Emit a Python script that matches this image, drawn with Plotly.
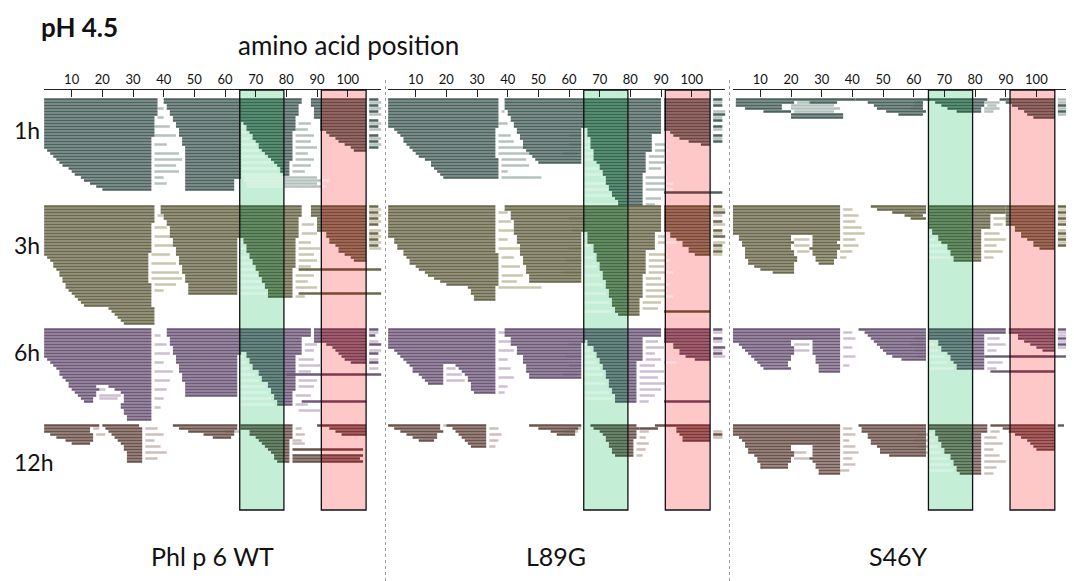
import plotly.graph_objects as go

PROTEINS = ['Phl p 6 WT', 'L89G', 'S46Y']
TIMES = ['1h', '3h', '6h', '12h']

TICK_VALS = [1, 10, 20, 30, 40, 50, 60, 70, 80, 90, 100, 111]
TICK_TEXT = ['', '10', '20', '30', '40', '50', '60', '70', '80', '90', '100', '']

# highlighted stretches of the sequence (residue positions)
GREEN_REGION = [64.8, 79.2]
RED_REGION = [91.4, 106]

# peptide stacks: (first row, start residues, end residues), one peptide per row
# *_SHORT: single dark peptides (row, start, end); *_LIGHT: pale peptides (row, start, end)

WT_1H = [
    (0, [1, 1, 1, 1, 1, 1, 1, 1, 1, 1, 1, 1, 1, 1, 1, 1, 1, 2, 3, 4, 5, 6, 7, 9, 10, 11, 13, 14, 16, 18, 20],
        [38, 38, 38, 38, 38, 38, 37, 37, 37, 37, 37, 37, 37, 36, 36, 36, 36, 36, 36, 36, 36, 36, 36, 36, 36, 36, 36, 36, 36, 36, 36]),
    (0, [40, 40, 41, 41, 42, 42, 43, 43, 44, 44, 45, 45, 45, 46, 46, 46, 47, 47, 47, 47, 47, 47, 47, 47, 47, 47, 47, 47, 47, 47, 47],
        [65, 65, 65, 65, 65, 65, 65, 65, 65, 65, 65, 65, 65, 65, 65, 65, 65, 65, 65, 65, 65, 65, 65, 65, 65, 65, 65, 63, 63, 63, 63]),
    (0, [65, 65, 65, 65, 65, 65, 65, 65, 66, 67, 67, 68, 69, 69, 70, 71, 71, 72, 73, 74, 75, 76, 77, 78, 78, 79],
        [85, 85, 84, 84, 84, 84, 83, 83, 83, 83, 83, 82, 82, 82, 82, 82, 82, 82, 82, 82, 82, 81, 81, 81, 81, 81]),
    (0, [88, 88, 88, 89, 89, 89, 89, 91, 91, 91, 91, 93, 94, 96, 97, 99, 101, 102],
        [106, 106, 106, 106, 106, 106, 106, 106, 106, 106, 106, 106, 106, 106, 106, 106, 106, 106]),
]
WT_1H_SHORT = [(0, 107, 110), (2, 107, 110), (4, 107, 110), (7, 107, 110), (9, 107, 110),
               (12, 107, 110), (14, 107, 110), (16, 107, 110)]
WT_1H_LIGHT = [(1, 107, 111), (3, 107, 111), (5, 107, 111), (8, 107, 111), (10, 107, 111), (13, 107, 111), (15, 107, 111),
               (3, 38, 40), (6, 38, 40), (9, 37, 42), (12, 37, 44), (15, 37, 41), (18, 37, 45), (20, 37, 46),
               (22, 37, 44), (24, 37, 45), (26, 37, 40), (28, 37, 41),
               (9, 65, 66), (11, 65, 67), (13, 65, 68), (15, 65, 70), (17, 65, 71), (19, 65, 73), (21, 65, 75),
               (23, 65, 77), (25, 65, 78),
               (26, 66, 90), (27, 66, 94), (28, 67, 90), (29, 67, 93),
               (8, 84, 88), (10, 83, 87), (12, 83, 89), (14, 83, 88), (16, 83, 90), (18, 83, 87), (20, 83, 89),
               (22, 82, 88), (24, 82, 86)]

WT_3H = [
    (0, [1, 1, 1, 1, 1, 1, 1, 1, 1, 1, 1, 1, 1, 1, 1, 1, 1, 2, 3, 4, 4, 5, 6, 6, 7, 7, 8, 8, 9, 10, 11, 12, 13, 14],
        [37, 37, 37, 37, 37, 37, 36, 36, 36, 36, 36, 36, 36, 36, 36, 36, 35, 35, 35, 35, 35, 35, 35, 35, 35, 35, 36, 36, 36, 36, 36, 36, 36, 36]),
    (34, [22, 23, 24, 25, 26, 27], [37, 37, 37, 37, 37, 37]),
    (0, [39, 39, 39, 40, 40, 41, 41, 42, 42, 42, 42, 43, 43, 43, 44, 44, 44, 45, 45, 45, 46, 46, 46, 47, 47, 47, 48, 48, 48, 48],
        [65, 65, 65, 65, 65, 65, 65, 65, 65, 65, 65, 64, 64, 64, 64, 64, 64, 64, 64, 64, 64, 64, 64, 64, 64, 64, 64, 64, 64, 64]),
    (0, [65, 65, 65, 65, 65, 65, 65, 65, 65, 65, 65, 66, 66, 67, 67, 67, 68, 68, 69, 69, 70, 70, 71, 71, 72, 72, 73, 73, 74, 74, 74],
        [85, 85, 85, 85, 84, 84, 84, 84, 84, 84, 84, 83, 83, 83, 83, 83, 83, 83, 83, 83, 83, 82, 82, 82, 82, 82, 82, 82, 82, 82, 82]),
    (0, [88, 88, 88, 88, 90, 90, 90, 90, 90, 93, 93, 94, 94, 96, 97, 97, 99, 101, 102],
        [106, 106, 106, 106, 106, 106, 106, 106, 106, 106, 106, 106, 106, 106, 106, 106, 106, 106, 106]),
]
WT_3H_SHORT = [(0, 107, 110), (2, 107, 110), (4, 107, 110), (6, 107, 110), (9, 107, 110), (11, 107, 110),
               (13, 107, 110), (21, 84, 111), (29, 84, 111)]
WT_3H_LIGHT = [(1, 107, 111), (3, 107, 111), (5, 107, 111), (8, 107, 111), (10, 107, 111), (12, 107, 111), (14, 107, 111),
               (3, 38, 40), (7, 37, 41), (10, 37, 42), (13, 37, 43), (16, 36, 42), (19, 36, 44), (22, 36, 45),
               (24, 36, 46), (26, 37, 44), (28, 37, 40),
               (12, 65, 66), (14, 65, 67), (17, 65, 68), (19, 65, 69), (21, 65, 70), (23, 65, 71), (25, 65, 72),
               (27, 65, 73), (29, 65, 74),
               (6, 85, 89), (9, 85, 90), (12, 84, 88), (14, 84, 91), (16, 84, 89), (18, 84, 90), (20, 84, 88),
               (23, 83, 89), (25, 83, 87), (27, 83, 90), (30, 83, 86)]

WT_6H = [
    (0, [1, 1, 1, 1, 1, 1, 1, 1, 1, 1, 2, 3, 4, 5, 6, 6, 7, 8, 9, 9, 10, 11, 12, 13, 14],
        [36, 36, 36, 36, 36, 36, 36, 36, 36, 36, 36, 36, 36, 36, 36, 36, 36, 36, 36, 18, 19, 18, 18, 17, 17]),
    (19, [22, 24, 26, 27, 27, 27, 26, 26, 27, 27, 28, 28],
         [36, 36, 36, 36, 36, 36, 36, 36, 36, 36, 36, 36]),
    (0, [41, 41, 41, 42, 42, 42, 43, 43, 43, 44, 44, 44, 45, 45, 45, 46, 46, 46, 47, 47, 47, 47, 47],
        [65, 65, 65, 65, 65, 65, 65, 65, 65, 64, 64, 64, 64, 64, 64, 64, 64, 64, 64, 64, 64, 64, 64]),
    (0, [65, 65, 65, 65, 65, 65, 65, 65, 67, 67, 68, 68, 69, 69, 71, 71, 72, 72, 74, 74, 75, 75, 76, 76, 77, 77],
        [88, 88, 88, 85, 85, 85, 85, 85, 85, 83, 83, 83, 83, 83, 83, 83, 83, 83, 83, 83, 83, 82, 82, 82, 82, 82]),
    (0, [89, 89, 89, 89, 89, 93, 95, 96, 97, 98, 99, 101],
        [106, 106, 106, 106, 106, 106, 106, 106, 106, 106, 106, 106]),
]
WT_6H_SHORT = [(0, 107, 110), (2, 107, 109), (5, 107, 111), (8, 107, 110), (11, 107, 110),
               (15, 80, 111), (24, 85, 106)]
WT_6H_LIGHT = [(1, 107, 110), (4, 107, 110), (7, 107, 111), (10, 107, 110), (13, 107, 110),
               (2, 37, 39), (5, 37, 41), (8, 37, 42), (11, 37, 40), (14, 37, 43), (17, 37, 42), (20, 37, 41),
               (23, 37, 40), (26, 37, 39),
               (20, 19, 21), (22, 19, 26), (23, 19, 25),
               (9, 65, 66), (11, 65, 67), (13, 65, 68), (15, 65, 70), (17, 65, 71), (19, 65, 73), (21, 65, 74),
               (23, 65, 75), (25, 65, 76),
               (5, 86, 90), (7, 86, 89), (10, 84, 89), (12, 84, 91), (14, 84, 88), (17, 84, 90), (19, 84, 89),
               (22, 83, 88), (25, 83, 87), (27, 84, 91)]

WT_12H = [
    (0, [1, 1, 1, 3, 5, 8, 10], [19, 16, 16, 17, 17, 17, 16]),
    (0, [20, 21, 22, 23, 24, 25, 26, 27, 27, 28, 28, 28, 28],
        [32, 33, 33, 33, 33, 33, 33, 33, 33, 33, 33, 33, 33]),
    (0, [43, 45, 48, 53, 56], [64, 64, 63, 63, 62]),
    (0, [65, 65, 68, 68, 70, 71, 72, 73, 74, 75, 76, 76, 77],
        [82, 82, 82, 82, 82, 81, 81, 81, 81, 81, 81, 81, 81]),
    (0, [90, 94, 96, 98], [106, 106, 106, 106]),
]
WT_12H_SHORT = [(8, 82, 105), (10, 82, 105), (11, 82, 104), (12, 82, 105)]
WT_12H_LIGHT = [(1, 34, 38), (3, 34, 40), (5, 34, 37), (7, 34, 39), (9, 34, 41), (11, 34, 38),
                (1, 17, 19), (3, 18, 21), (2, 60, 65),
                (1, 83, 85), (3, 83, 86), (5, 82, 85), (6, 82, 86)]

L89G_1H = [
    (0, [1, 1, 1, 1, 1, 1, 1, 1, 1, 1, 3, 4, 5, 6, 6, 7, 8, 9, 10, 11, 13, 15, 15, 16, 17, 18, 19],
        [37, 37, 37, 37, 37, 37, 37, 37, 37, 37, 36, 36, 36, 36, 36, 36, 36, 36, 36, 36, 37, 37, 37, 37, 37, 37, 37]),
    (0, [39, 39, 39, 39, 40, 40, 41, 41, 42, 42, 43, 43, 44, 44, 45, 45, 45, 46, 47, 48, 49, 50],
        [65, 65, 65, 65, 65, 65, 65, 65, 65, 65, 64, 64, 64, 64, 64, 64, 64, 64, 64, 64, 64, 64]),
    (0, [65, 65, 65, 65, 65, 65, 65, 65, 65, 65, 66, 66, 66, 67, 67, 67, 67, 68, 68, 68, 68, 69,
         70, 70, 71, 71, 72, 72, 72, 73, 73, 74, 74, 75, 76, 76],
        [90, 90, 90, 90, 90, 90, 90, 90, 90, 90, 90, 90, 87, 87, 87, 87, 87, 87, 85, 85, 85, 85,
         85, 85, 85, 84, 84, 84, 84, 84, 84, 84, 84, 84, 84, 84]),
    (0, [91, 91, 91, 91, 91, 91, 91, 91, 91, 91, 91, 93, 94, 96, 99, 103],
        [106, 106, 106, 106, 106, 106, 106, 106, 106, 106, 106, 106, 106, 106, 106, 106]),
]
L89G_1H_SHORT = [(0, 107, 110), (2, 107, 110), (5, 107, 111), (7, 107, 110), (9, 107, 110),
                 (12, 107, 110), (14, 107, 110), (31, 91, 110)]
L89G_1H_LIGHT = [(1, 107, 110), (4, 107, 111), (6, 107, 110), (10, 107, 110), (13, 107, 110),
                 (4, 38, 39), (8, 37, 40), (12, 37, 41), (14, 37, 42), (16, 37, 46), (18, 37, 47), (20, 38, 46),
                 (22, 38, 47), (24, 38, 40), (26, 38, 51),
                 (12, 60, 64), (15, 60, 64), (18, 58, 63),
                 (11, 65, 66), (14, 65, 67), (16, 65, 67), (18, 65, 68), (20, 65, 68), (23, 65, 70), (25, 65, 71),
                 (28, 65, 72), (30, 65, 73), (32, 65, 74), (35, 65, 76),
                 (15, 88, 92), (17, 88, 93), (19, 86, 91), (21, 86, 93), (23, 86, 90), (26, 85, 92), (28, 85, 94),
                 (30, 85, 94), (33, 85, 90), (35, 85, 88)]

L89G_3H = [
    (0, [1, 1, 1, 1, 1, 1, 1, 1, 1, 1, 1, 3, 3, 4, 4, 6, 6, 7, 8, 8, 10, 11, 13, 14, 16, 18, 20],
        [36, 36, 36, 36, 36, 36, 36, 36, 36, 36, 36, 36, 36, 36, 36, 36, 37, 37, 37, 37, 37, 37, 37, 37, 37, 37, 37]),
    (27, [27, 28, 28, 29, 29], [36, 36, 36, 36, 36]),
    (0, [39, 39, 41, 41, 41, 42, 42, 42, 42, 42, 43, 43, 43, 44, 44, 44, 44, 45, 45, 45, 46, 46, 46, 47, 47, 47],
        [65, 65, 65, 65, 65, 65, 65, 65, 65, 64, 64, 64, 64, 64, 64, 64, 64, 64, 64, 64, 64, 64, 64, 64, 64, 64]),
    (0, [65, 65, 65, 65, 65, 65, 65, 65, 65, 66, 66, 66, 66, 68, 68, 68, 69, 69, 69, 70, 70, 70,
         71, 71, 71, 72, 72, 72, 73, 73, 73, 74, 74, 74, 75, 75, 76],
        [90, 90, 90, 90, 90, 90, 90, 90, 90, 88, 88, 88, 88, 88, 88, 85, 85, 85, 85, 85, 85, 85,
         85, 84, 84, 84, 84, 84, 84, 84, 84, 83, 83, 83, 83, 83, 83]),
    (0, [91, 91, 91, 91, 91, 91, 91, 91, 91, 93, 93, 95, 97, 97, 99, 99, 101],
        [106, 106, 106, 106, 106, 106, 106, 106, 106, 106, 106, 106, 106, 106, 106, 106, 106]),
]
L89G_3H_SHORT = [(0, 107, 110), (2, 107, 111), (5, 107, 110), (8, 107, 110), (10, 107, 111),
                 (13, 107, 110), (15, 107, 110), (35, 91, 106)]
L89G_3H_LIGHT = [(1, 107, 111), (3, 107, 110), (6, 107, 111), (9, 107, 110), (12, 107, 111), (14, 107, 110),
                 (16, 107, 110),
                 (2, 37, 40), (5, 37, 41), (8, 37, 42), (11, 37, 40), (14, 37, 44), (17, 38, 42), (20, 38, 44),
                 (23, 38, 45), (25, 38, 43), (27, 37, 51),
                 (4, 60, 65), (8, 61, 64), (14, 60, 64), (18, 59, 64), (22, 58, 64),
                 (10, 65, 66), (13, 65, 67), (17, 65, 68), (20, 65, 69), (23, 65, 70), (26, 65, 71), (29, 65, 72),
                 (32, 65, 73), (35, 65, 74),
                 (10, 89, 93), (12, 89, 95), (16, 86, 92), (18, 86, 93), (20, 86, 91), (22, 86, 94), (24, 85, 90),
                 (26, 85, 93), (28, 85, 92), (30, 85, 94), (32, 84, 90), (34, 84, 89)]

L89G_6H = [
    (0, [1, 1, 1, 1, 1, 1, 1, 3, 4, 5, 6, 7, 8, 9, 9, 11, 12, 13, 14],
        [36, 36, 36, 36, 36, 36, 36, 36, 36, 36, 36, 36, 19, 19, 19, 19, 19, 19, 19]),
    (12, [23, 24, 25, 26, 27, 27, 28, 28, 28, 29], [36, 36, 36, 36, 36, 36, 36, 36, 36, 36]),
    (0, [39, 39, 39, 41, 41, 41, 43, 43, 43, 45, 45, 45, 46, 46, 46, 47, 47],
        [65, 65, 65, 65, 65, 64, 64, 64, 64, 64, 64, 64, 64, 64, 64, 64, 64]),
    (0, [65, 65, 65, 65, 66, 66, 68, 68, 69, 69, 70, 70, 71, 71, 72, 72, 72, 73, 73, 73, 74, 74, 75, 75, 75],
        [90, 90, 90, 84, 84, 84, 84, 84, 84, 84, 84, 82, 82, 82, 82, 82, 82, 82, 82, 82, 82, 82, 82, 82, 82]),
    (0, [91, 91, 91, 91, 91, 94, 94, 96, 96, 98, 101],
        [106, 106, 106, 106, 106, 106, 106, 106, 106, 106, 106]),
]
L89G_6H_SHORT = [(0, 107, 110), (3, 107, 110), (6, 107, 111), (8, 107, 110), (24, 91, 106)]
L89G_6H_LIGHT = [(1, 107, 110), (4, 107, 110), (7, 107, 110), (9, 107, 111), (11, 91, 95),
                 (1, 37, 40), (4, 37, 41), (7, 37, 42), (10, 37, 40), (13, 37, 41), (16, 37, 42), (19, 37, 40),
                 (21, 37, 39),
                 (13, 20, 23), (15, 20, 25), (17, 20, 26),
                 (5, 60, 64), (9, 59, 64), (12, 60, 64), (15, 58, 63),
                 (5, 65, 66), (7, 65, 67), (9, 65, 68), (11, 65, 69), (13, 65, 70), (15, 65, 71), (18, 65, 72),
                 (21, 65, 73), (23, 65, 74),
                 (4, 85, 89), (6, 85, 91), (8, 85, 88), (10, 85, 90), (12, 83, 88), (14, 83, 91), (16, 83, 89),
                 (18, 83, 92), (20, 83, 90), (22, 83, 88), (24, 83, 86)]

L89G_12H = [
    (0, [1, 3, 5, 7, 9, 11], [18, 18, 19, 17, 17, 16]),
    (0, [20, 22, 23, 24, 25, 26, 27, 28], [33, 33, 33, 33, 33, 33, 33, 33]),
    (0, [47, 50, 54, 56], [64, 63, 62, 62]),
    (0, [67, 68, 70, 71, 72, 72, 73, 73, 74, 74, 75], [82, 83, 82, 82, 82, 81, 81, 81, 81, 81, 81]),
    (0, [88, 95, 95, 96, 97, 97], [106, 106, 106, 106, 106, 106]),
]
L89G_12H_SHORT = [(1, 83, 89), (3, 107, 110)]
L89G_12H_LIGHT = [(1, 34, 37), (3, 34, 38), (5, 34, 37), (7, 34, 36), (0, 19, 20), (1, 60, 64), (2, 58, 63),
                  (2, 83, 86), (4, 83, 85), (6, 82, 86), (8, 82, 85), (10, 82, 84), (2, 107, 110), (4, 107, 110)]

S46Y_1H = [
    (0, [2, 2, 2, 5, 11], [41, 21, 17, 17, 20]),
    (5, [20, 20], [37, 37]),
    (0, [41, 45, 47, 48, 51, 55], [65, 63, 63, 63, 64, 63]),
    (0, [65, 67, 69, 71, 74], [84, 83, 83, 82, 82]),
    (0, [88, 90, 92, 94, 96, 97, 99], [106, 106, 106, 106, 106, 106, 106]),
]
S46Y_1H_SHORT = [(1, 26, 35), (2, 107, 110), (4, 107, 110)]
S46Y_1H_LIGHT = [(1, 22, 26), (2, 20, 34), (3, 20, 36), (4, 21, 34), (1, 60, 63), (2, 60, 63), (3, 59, 63),
                 (1, 83, 88), (2, 84, 87), (3, 83, 88), (4, 83, 86),
                 (0, 107, 111), (1, 107, 110), (3, 107, 111), (5, 107, 110)]

S46Y_3H = [
    (0, [1, 1, 1, 1, 1, 1, 1, 1, 1, 1, 3, 3, 4, 4, 5, 5, 5, 5, 6, 6, 8, 10, 14],
        [36, 36, 36, 36, 36, 36, 36, 36, 36, 36, 20, 20, 21, 20, 20, 21, 21, 22, 22, 21, 21, 21, 21]),
    (10, [27, 27, 27, 27, 26, 27, 27, 28, 28, 29], [36, 36, 35, 36, 36, 35, 35, 35, 34, 34]),
    (0, [46, 48, 53, 57, 59], [64, 64, 64, 63, 64]),
    (0, [65, 65, 65, 65, 65, 65, 65, 65, 66, 66, 68, 68, 69, 71, 71, 72, 72, 73, 73],
        [90, 90, 90, 85, 85, 85, 85, 85, 82, 82, 82, 82, 82, 82, 82, 82, 82, 82, 82]),
    (0, [90, 90, 90, 90, 90, 90, 90, 93, 93, 95, 95, 97, 99, 99, 101],
        [106, 106, 106, 106, 106, 106, 106, 106, 106, 106, 106, 106, 106, 106, 106]),
]
S46Y_3H_SHORT = [(0, 107, 111), (2, 107, 110), (4, 107, 110), (6, 107, 111), (9, 107, 110),
                 (11, 107, 110), (13, 107, 110)]
S46Y_3H_LIGHT = [(1, 107, 110), (3, 107, 111), (5, 107, 110), (8, 107, 111), (10, 107, 110), (12, 107, 110),
                 (1, 37, 40), (3, 37, 42), (5, 37, 41), (7, 37, 43), (9, 37, 44), (11, 37, 41), (13, 37, 42),
                 (15, 36, 40), (17, 36, 38),
                 (11, 21, 26), (13, 21, 26), (15, 22, 26),
                 (2, 53, 60), (3, 58, 62),
                 (9, 65, 66), (11, 65, 67), (13, 65, 69), (15, 65, 71), (17, 65, 72),
                 (4, 86, 90), (6, 86, 89), (9, 83, 88), (11, 83, 90), (13, 83, 87), (15, 83, 89), (17, 83, 86)]

S46Y_6H = [
    (0, [1, 1, 1, 1, 1, 3, 4, 5, 6, 7, 8, 9, 10, 11],
        [36, 36, 36, 36, 20, 20, 21, 21, 21, 20, 20, 19, 19, 20]),
    (4, [27, 27, 27, 27, 27, 28, 28, 28, 29, 29, 29], [36, 36, 36, 36, 36, 36, 36, 36, 36, 36, 36]),
    (0, [42, 44, 45, 46, 47, 48, 49, 50, 51, 53, 56], [64, 64, 64, 64, 64, 64, 64, 64, 64, 64, 64]),
    (0, [65, 65, 65, 65, 68, 68, 69, 69, 71, 72, 72, 73, 74, 74],
        [90, 90, 83, 83, 83, 83, 83, 83, 83, 83, 83, 83, 83, 83]),
    (0, [91, 91, 94, 94, 96, 98, 100, 102], [106, 106, 106, 106, 106, 106, 106, 106]),
]
S46Y_6H_SHORT = [(0, 107, 111), (3, 107, 110), (5, 107, 111), (9, 83, 110), (14, 85, 106)]
S46Y_6H_LIGHT = [(1, 107, 110), (2, 107, 110), (4, 107, 110), (6, 107, 110),
                 (1, 37, 40), (3, 37, 41), (6, 37, 40), (9, 37, 41), (12, 37, 39),
                 (5, 21, 26), (7, 21, 26),
                 (3, 60, 64), (5, 59, 64), (7, 60, 64), (9, 61, 64),
                 (5, 65, 67), (7, 65, 68), (9, 65, 70), (11, 65, 71), (13, 65, 73),
                 (3, 84, 88), (5, 84, 90), (7, 84, 87), (11, 84, 89), (13, 84, 87)]

S46Y_12H = [
    (0, [1, 1, 1, 1, 3, 4, 5, 5, 6, 6, 8, 9, 9, 10, 10],
        [36, 36, 36, 36, 36, 36, 36, 20, 20, 21, 21, 20, 20, 19, 19]),
    (7, [27, 27, 27, 27, 26, 27, 28, 28, 29, 29], [36, 36, 36, 36, 36, 36, 36, 36, 36, 36]),
    (0, [42, 43, 43, 45, 45, 46, 46, 48, 49, 49, 52], [64, 64, 64, 64, 64, 64, 64, 64, 64, 64, 64]),
    (0, [65, 65, 67, 67, 68, 68, 69, 69, 70, 70, 72, 72, 73, 73, 74, 74, 75],
        [84, 84, 84, 82, 82, 82, 82, 82, 82, 82, 82, 82, 82, 82, 82, 82, 82]),
    (0, [85, 89, 91, 93, 95, 97, 98, 99, 100], [106, 106, 106, 106, 106, 106, 106, 106, 106]),
]
S46Y_12H_SHORT = [(0, 107, 109)]
S46Y_12H_LIGHT = [(1, 37, 40), (3, 37, 41), (5, 37, 39), (7, 37, 41), (9, 37, 42), (11, 37, 40), (13, 37, 41),
                  (15, 36, 39),
                  (9, 21, 25), (11, 21, 26),
                  (3, 61, 65), (5, 60, 65), (7, 61, 66), (9, 62, 65),
                  (3, 65, 66), (5, 65, 67), (7, 65, 68), (9, 65, 69), (11, 65, 71), (13, 65, 72), (15, 65, 73),
                  (2, 85, 88), (4, 83, 87), (6, 83, 89), (8, 83, 86), (10, 83, 88), (12, 83, 90), (14, 83, 87),
                  (16, 83, 86)]

PANELS = [
    [(WT_1H, WT_1H_SHORT, WT_1H_LIGHT), (WT_3H, WT_3H_SHORT, WT_3H_LIGHT),
     (WT_6H, WT_6H_SHORT, WT_6H_LIGHT), (WT_12H, WT_12H_SHORT, WT_12H_LIGHT)],
    [(L89G_1H, L89G_1H_SHORT, L89G_1H_LIGHT), (L89G_3H, L89G_3H_SHORT, L89G_3H_LIGHT),
     (L89G_6H, L89G_6H_SHORT, L89G_6H_LIGHT), (L89G_12H, L89G_12H_SHORT, L89G_12H_LIGHT)],
    [(S46Y_1H, S46Y_1H_SHORT, S46Y_1H_LIGHT), (S46Y_3H, S46Y_3H_SHORT, S46Y_3H_LIGHT),
     (S46Y_6H, S46Y_6H_SHORT, S46Y_6H_LIGHT), (S46Y_12H, S46Y_12H_SHORT, S46Y_12H_LIGHT)],
]

# ---- page geometry (pixels of the 1074x581 page) and styling ----
PAGE_W, PAGE_H = 1074, 581
BODY = 8                       # the page body margin pushes the figure 8px right and down
W, H = PAGE_W - BODY, PAGE_H - BODY
TOP, BOTTOM = 90, 510
ROW_PX = 3
RES0_PX = [41, 385, 729.7]
RES_PX = 3.067
BLOCK_TOP_PX = {'1h': 98, '3h': 205, '6h': 328, '12h': 424}
LABEL_Y_PX = {'1h': 130, '3h': 245, '6h': 352, '12h': 462}
NAME_X_PX = [212, 556, 898]

DARK = {'plain': {'1h': '#4c625e', '3h': '#6b694b', '6h': '#6e5878', '12h': '#6b524b'},
        'green': {'1h': '#33684f', '3h': '#43693f', '6h': '#43605f', '12h': '#455d42'},
        'red': {'1h': '#6b4542', '3h': '#7b4732', '6h': '#7c384c', '12h': '#803636'}}
LIGHT = {'plain': {'1h': '#b4c2be', '3h': '#c9c7b0', '6h': '#cdbfd2', '12h': '#cfbfba'},
         'green': {'1h': '#d8f3e3', '3h': '#d8f3e3', '6h': '#d8f3e3', '12h': '#d8f3e3'},
         'red': {'1h': '#fadcdc', '3h': '#fadcdc', '6h': '#fadcdc', '12h': '#fadcdc'}}
FONT = 'Lato, "Open Sans", sans-serif'


def px_x(px):
    return (px - BODY) / W


def px_y(py):
    return (BOTTOM - py) / (BOTTOM - TOP)


def split(s, e):
    edges = sorted([s, e] + [c for c in GREEN_REGION + RED_REGION if s < c < e])
    for a, b in zip(edges[:-1], edges[1:]):
        m = (a + b) / 2
        if GREEN_REGION[0] < m < GREEN_REGION[1]:
            zone = 'green'
        elif RED_REGION[0] < m < RED_REGION[1]:
            zone = 'red'
        else:
            zone = 'plain'
        yield a, b, zone


fig = go.Figure()

for c, blocks in enumerate(PANELS):
    xa = 'x' if c == 0 else 'x%d' % (c + 1)
    for shade, palette in (('light', LIGHT), ('dark', DARK)):
        base, length, ys, cols = [], [], [], []
        for t, (stacks, short, light) in zip(TIMES, blocks):
            y0 = (BLOCK_TOP_PX[t] - TOP) / ROW_PX + 0.5
            if shade == 'dark':
                segs = list(short)
                for r0, starts, ends in stacks:
                    if len(starts) != len(ends):
                        raise ValueError('length mismatch in %s %s row %d' % (PROTEINS[c], t, r0))
                    segs += [(r0 + i, s, e) for i, (s, e) in enumerate(zip(starts, ends))]
            else:
                segs = light
            for r, s, e in segs:
                for a, b, zone in split(s, e):
                    base.append(a)
                    length.append(b - a)
                    ys.append(y0 + r)
                    cols.append(palette[zone][t])
        fig.add_trace(go.Bar(orientation='h', base=base, x=length, y=ys, width=0.8,
                             marker=dict(color=cols, line=dict(width=0)),
                             xaxis=xa, yaxis='y', hoverinfo='skip', showlegend=False))

shapes = []
for c in range(3):
    xr = 'x' if c == 0 else 'x%d' % (c + 1)
    for region, fill in ((GREEN_REGION, '#c5eed6'), (RED_REGION, '#ffc8c8')):
        shapes.append(dict(type='rect', xref=xr, yref='paper', x0=region[0], x1=region[1], y0=0, y1=1,
                           fillcolor=fill, line=dict(width=0), layer='below'))
        shapes.append(dict(type='rect', xref=xr, yref='paper', x0=region[0], x1=region[1], y0=0, y1=1,
                           line=dict(color='#111111', width=1.3), layer='above'))
for sep in (385.5, 729.5):
    shapes.append(dict(type='line', xref='paper', yref='paper', x0=px_x(sep), x1=px_x(sep),
                       y0=px_y(PAGE_H), y1=px_y(80), line=dict(color='#9a9a9a', width=1, dash='dot')))

annotations = [
    dict(text='<b>pH 4.5</b>', x=px_x(39), y=px_y(BODY + 1), xanchor='left', yanchor='top',
         font=dict(size=26, color='#111111')),
    dict(text='amino acid position', x=px_x(348), y=px_y(45), xanchor='center', yanchor='middle',
         font=dict(size=26, color='#111111')),
]
for t in TIMES:
    annotations.append(dict(text=t, x=px_x(12), y=px_y(LABEL_Y_PX[t]), xanchor='left', yanchor='middle',
                            font=dict(size=23, color='#111111')))
for name, xp in zip(PROTEINS, NAME_X_PX):
    annotations.append(dict(text=name, x=px_x(xp), y=px_y(556), xanchor='center', yanchor='middle',
                            font=dict(size=25, color='#111111')))
for a in annotations:
    a.update(xref='paper', yref='paper', showarrow=False)

axis_style = dict(range=[1, 111], side='top', showline=True, linecolor='#222222', linewidth=1,
                  ticks='inside', ticklen=7, tickcolor='#222222', tickwidth=1,
                  tickvals=TICK_VALS, ticktext=TICK_TEXT, tickfont=dict(size=13, color='#111111'),
                  showgrid=False, zeroline=False, fixedrange=True, anchor='y')
layout_axes = {}
for c in range(3):
    x0 = RES0_PX[c] + 1 * RES_PX
    x1 = RES0_PX[c] + 111 * RES_PX
    key = 'xaxis' if c == 0 else 'xaxis%d' % (c + 1)
    layout_axes[key] = dict(axis_style, domain=[px_x(x0), px_x(x1)])

fig.update_layout(
    width=W, height=H,
    margin=dict(l=0, r=0, t=TOP - BODY, b=PAGE_H - BOTTOM),
    paper_bgcolor='white', plot_bgcolor='white',
    font=dict(family=FONT, color='#111111'),
    barmode='overlay',
    yaxis=dict(range=[(BOTTOM - TOP) / ROW_PX, 0], visible=False, fixedrange=True, domain=[0, 1]),
    shapes=shapes,
    annotations=annotations,
    **layout_axes
)

fig.write_html('out.html')
